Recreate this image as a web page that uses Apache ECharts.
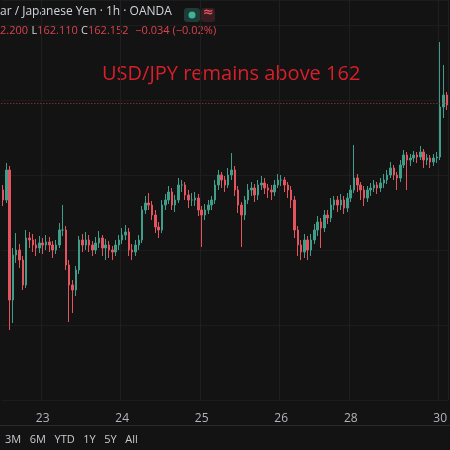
<!DOCTYPE html>
<html><head><meta charset="utf-8">
<script src="https://cdn.jsdelivr.net/npm/echarts@6/dist/echarts.min.js"></script>
<style>html,body{margin:0;padding:0;background:#131313}#c{width:450px;height:450px}</style>
</head><body><div id="c"></div>
<script>
const firstOpen = 161.28;
const closes = [161.18,161.48,160.18,160.63,160.68,160.58,160.33,160.80,160.78,160.73,160.70,160.75,160.73,160.76,160.73,160.68,160.73,160.88,160.88,160.53,
160.33,160.28,160.48,160.78,160.73,160.78,160.73,160.68,160.75,160.80,160.70,160.73,160.68,160.66,160.73,160.78,160.83,160.86,160.68,160.66,
160.73,160.78,161.08,161.15,161.13,161.03,160.91,160.88,161.13,161.18,161.26,161.13,161.18,161.33,161.33,161.23,161.18,161.18,161.20,161.08,
161.03,161.08,161.13,161.18,161.33,161.43,161.38,161.33,161.43,161.48,161.28,161.13,161.03,161.18,161.28,161.30,161.23,161.33,161.35,161.30,
161.28,161.26,161.33,161.38,161.38,161.33,161.28,161.18,160.88,160.73,160.66,160.78,160.68,160.78,160.88,160.96,160.90,161.03,161.00,161.13,
161.18,161.13,161.18,161.10,161.20,161.28,161.40,161.33,161.28,161.20,161.28,161.30,161.33,161.30,161.35,161.38,161.43,161.50,161.43,161.40,
161.53,161.63,161.58,161.60,161.63,161.61,161.66,161.58,161.60,161.56,161.60,161.61,162.11,162.23,162.13];
const highs = [161.33,161.55,161.52,160.70,160.85,160.74,160.62,160.88,160.86,160.84,160.79,160.82,160.80,160.83,160.81,160.77,160.78,160.95,161.13,160.92,
160.58,160.38,160.52,160.82,160.84,160.86,160.83,160.77,160.81,160.87,160.83,160.79,160.77,160.72,160.78,160.83,160.90,160.93,160.90,160.74,
160.78,160.83,161.12,161.22,161.25,161.17,161.08,160.96,161.18,161.24,161.32,161.30,161.23,161.40,161.38,161.36,161.28,161.25,161.26,161.24,
161.12,161.14,161.18,161.22,161.38,161.48,161.46,161.42,161.50,161.65,161.52,161.32,161.16,161.22,161.34,161.36,161.34,161.38,161.42,161.40,
161.34,161.33,161.38,161.44,161.43,161.41,161.36,161.32,161.22,160.92,160.78,160.84,160.82,160.84,160.94,161.02,161.00,161.08,161.08,161.20,
161.22,161.22,161.24,161.22,161.25,161.33,161.73,161.44,161.36,161.32,161.32,161.35,161.38,161.36,161.40,161.44,161.48,161.56,161.53,161.46,
161.58,161.68,161.66,161.64,161.67,161.66,161.72,161.69,161.64,161.63,161.64,161.66,162.76,162.53,162.26];
const lows = [161.12,161.15,159.88,159.95,160.55,160.50,160.28,160.30,160.70,160.66,160.62,160.65,160.64,160.68,160.66,160.60,160.64,160.70,160.82,160.48,
159.96,160.05,160.22,160.44,160.66,160.68,160.66,160.62,160.64,160.70,160.62,160.58,160.60,160.58,160.62,160.68,160.74,160.78,160.62,160.58,
160.62,160.68,160.75,161.04,161.08,160.98,160.85,160.80,160.85,161.08,161.14,161.08,161.06,161.15,161.26,161.18,161.10,161.12,161.12,161.02,
160.71,160.98,161.04,161.08,161.14,161.28,161.30,161.26,161.30,161.38,161.22,161.05,160.71,160.98,161.14,161.22,161.16,161.18,161.28,161.24,
161.20,161.18,161.22,161.30,161.32,161.26,161.20,161.10,160.80,160.62,160.58,160.60,160.58,160.62,160.74,160.82,160.70,160.86,160.94,160.96,
161.08,161.06,161.08,161.04,161.06,161.16,161.25,161.26,161.18,161.12,161.16,161.22,161.26,161.24,161.26,161.30,161.34,161.40,161.38,161.28,
161.36,161.50,161.28,161.52,161.56,161.55,161.58,161.50,161.53,161.50,161.52,161.55,161.58,162.00,162.08];
const dayLabels = {12:'23',36:'24',60:'25',84:'26',105:'28',132:'30'};
const lastPrice = 162.152;

const cats = closes.map((_, i) => i);
const ohlc = closes.map((c, i) => [i === 0 ? firstOpen : closes[i-1], c, lows[i], highs[i]]);
const chart = echarts.init(document.getElementById('c'));
chart.setOption({
  backgroundColor: '#131313',
  animation: false,
  grid: {left: 0, right: 0, top: 0, height: 400},
  xAxis: {type: 'category', data: cats, boundaryGap: true,
    axisLine: {show: false}, axisTick: {show: false},
    axisLabel: {interval: 0, color: '#b2b5be', fontSize: 12, fontFamily: 'Open Sans', margin: 13,
      formatter: v => dayLabels[v] || ''},
    splitLine: {show: true, interval: (i) => dayLabels[i] !== undefined, lineStyle: {color: '#1f1f1f'}}},
  yAxis: {type: 'value', min: 159.18, max: 163.18, interval: 0.75, show: true,
    axisLabel: {show: false}, axisLine: {show: false}, axisTick: {show: false},
    splitLine: {lineStyle: {color: '#1c1c1c'}}},
  series: [{type: 'candlestick', data: ohlc, barWidth: 2,
    itemStyle: {color: '#3f9e8a', color0: '#e3545f', borderColor: '#3f9e8a', borderColor0: '#e3545f', borderWidth: 1},
    markLine: {silent: true, symbol: 'none', label: {show: false},
      lineStyle: {color: '#b0343d', type: [1, 2], width: 1},
      data: [{yAxis: lastPrice}]}}],
  graphic: [
    {type: 'rect', shape: {x: 0, y: 425, width: 450, height: 1}, style: {fill: '#2a2a2a'}},
    {type: 'text', left: 5, top: 434, style: {text: '3M   6M   YTD   1Y   5Y   All', fill: '#c8cad0', font: '11px "Open Sans"'}},
    {type: 'text', left: 0, top: 6, style: {text: 'ar / Japanese Yen · 1h · OANDA', fill: '#d1d4dc', font: '12px "Open Sans"'}},
    {type: 'rect', shape: {x: 184, y: 8, width: 16, height: 14, r: 3}, style: {fill: '#1f3b35'}},
    {type: 'circle', shape: {cx: 192, cy: 15, r: 3.5}, style: {fill: '#3fb39a'}},
    {type: 'rect', shape: {x: 201, y: 8, width: 14, height: 14, r: 3}, style: {fill: '#3a1d22'}},
    {type: 'text', left: 203, top: 6, style: {text: '≈', fill: '#e3545f', font: 'bold 13px "DejaVu Sans"'}},
    {type: 'text', left: 0, top: 25, style: {
      text: '{r|2.200} {w|L}{r|162.110} {w|C}{r|162.152}  {r|−0.034 (−0.02%)}',
      rich: {r: {fill: '#d9434e', font: '11px "Open Sans"'}, w: {fill: '#d1d4dc', font: '11px "Open Sans"'}}}},
    {type: 'text', left: 102, top: 64, style: {text: 'USD/JPY remains above 162', fill: '#d91f2a', font: '20px "Open Sans"'}}
  ]
});
</script></body></html>
